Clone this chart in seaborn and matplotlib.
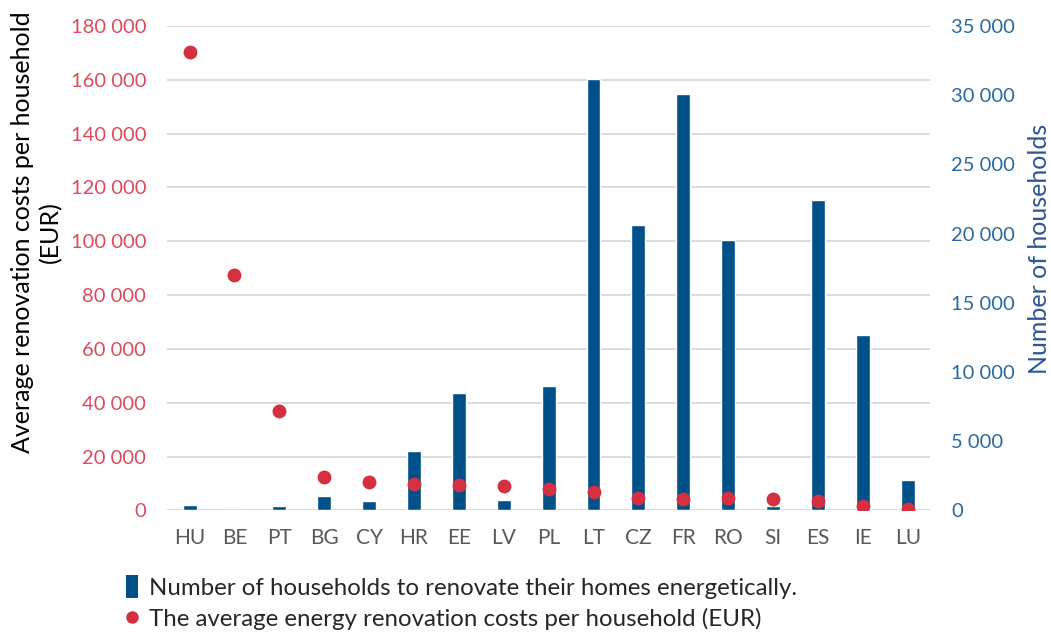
import matplotlib
matplotlib.use("Agg")
import matplotlib.pyplot as plt
from matplotlib.lines import Line2D
from matplotlib.patches import Rectangle
from matplotlib.ticker import FuncFormatter
import seaborn as sns

countries = ["HU", "BE", "PT", "BG", "CY", "HR", "EE", "LV", "PL",
             "LT", "CZ", "FR", "RO", "SI", "ES", "IE", "LU"]
# Households to renovate (right axis)
households = [400, 0, 300, 1050, 710, 4300, 8480, 740, 9000,
              31150, 20600, 30050, 19570, 280, 22420, 12650, 2200]
# Average renovation cost per household, EUR (left axis)
avg_cost = [170200, 87400, 37100, 12560, 10600, 9850, 9470, 9100, 7870,
            6760, 4530, 4380, 4530, 4160, 3640, 1780, 450]

left_ticks = [0, 20000, 40000, 60000, 80000, 100000, 120000, 140000, 160000, 180000]
right_ticks = [0, 5000, 10000, 15000, 20000, 25000, 30000, 35000]

BAR_BLUE = "#00508a"
DOT_RED = "#d5303f"
LEFT_TICK = "#dc4a5c"
RIGHT_TICK = "#2a6aa0"
RIGHT_LABEL = "#2f5597"
GRID = "#d9d9d9"
XTICK = "#595959"

sns.set_theme(style="white")
plt.rcParams["font.family"] = ["Lato", "DejaVu Sans"]


def thousands(v, _pos):
    return f"{int(v):,}".replace(",", " ")


fig = plt.figure(figsize=(10.51, 6.34), dpi=100)
ax = fig.add_axes([0.159, 0.195, 0.726, 0.764])
ax_bar = ax.twinx()
ax_dot = ax.twinx()

# Bars: households, on the right-hand scale
sns.barplot(x=countries, y=households, color=BAR_BLUE, width=0.31,
            saturation=1, ax=ax_bar, zorder=2)

# Dots: average costs, on the left-hand scale
sns.stripplot(x=countries, y=avg_cost, jitter=False, color=DOT_RED,
              size=10, linewidth=0, ax=ax_dot, zorder=3)

for a in (ax, ax_bar, ax_dot):
    a.set_xlim(-0.5, len(countries) - 0.5)
    for s in a.spines.values():
        s.set_visible(False)
    a.patch.set_visible(False)

ax.set_ylim(0, 180000)
ax_dot.set_ylim(0, 180000)
ax_bar.set_ylim(0, 35000)

# Left axis: grid and cost ticks
ax.set_yticks(left_ticks)
ax.yaxis.set_major_formatter(FuncFormatter(thousands))
ax.grid(axis="y", color=GRID, linewidth=1.3)
ax.set_axisbelow(True)
ax.tick_params(axis="y", length=0, pad=15, labelsize=14.5, labelcolor=LEFT_TICK)
ax.set_ylabel("Average renovation costs per household\n(EUR)", fontsize=18,
              color="black", linespacing=1.25)
ax.yaxis.set_label_coords(-0.138, 0.575)

ax.set_xticks(range(len(countries)))
ax.set_xticklabels(countries)
ax.tick_params(axis="x", length=0, pad=13, labelsize=15, labelcolor=XTICK)

# Right axis: household ticks
ax_bar.set_yticks(right_ticks)
ax_bar.yaxis.set_major_formatter(FuncFormatter(thousands))
ax_bar.tick_params(axis="y", length=0, pad=15, labelsize=14.5, labelcolor=RIGHT_TICK)
ax_bar.set_ylabel("Number of households", fontsize=18, color=RIGHT_LABEL)
ax_bar.yaxis.set_label_coords(1.128, 0.54)
ax_bar.set_xlabel("")
ax_bar.tick_params(axis="x", bottom=False, labelbottom=False)

ax_dot.set_axis_off()

# Legend below the plot
handles = [
    Rectangle((0, 0), 1, 1, facecolor=BAR_BLUE, edgecolor="none"),
    Line2D([], [], linestyle="none", marker="o", markersize=9,
           markerfacecolor=DOT_RED, markeredgewidth=0),
]
labels = ["Number of households to renovate their homes energetically.",
          "The average energy renovation costs per household (EUR)"]
fig.legend(handles, labels, loc="center left", bbox_to_anchor=(0.12, 0.049),
           frameon=False, fontsize=17.3, handlelength=0.5, handleheight=1.1,
           handletextpad=0.45, labelspacing=0.32, borderpad=0, borderaxespad=0)

fig.savefig("out.png", dpi=100)
